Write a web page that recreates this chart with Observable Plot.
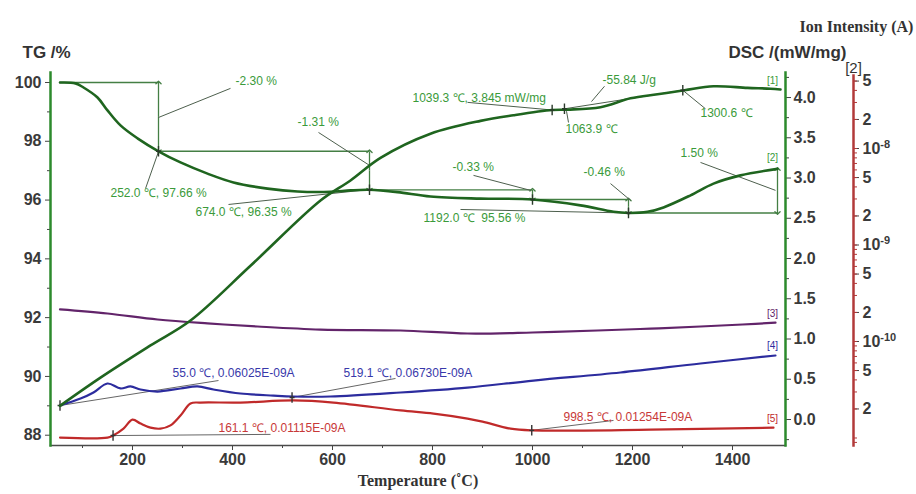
<!DOCTYPE html>
<html><head><meta charset="utf-8">
<script src="https://cdn.jsdelivr.net/npm/d3@7"></script>
<script src="https://cdn.jsdelivr.net/npm/@observablehq/plot@0.6"></script>
<style>
body{margin:0;background:#fff}
#chart{position:relative;width:916px;height:494px}
</style>
</head><body><div id="chart"></div>
<script>
// ---------- axes ----------
const xDomain = [36, 1506];
const xTicks = [200, 400, 600, 800, 1000, 1200, 1400];
const xMinorTicks = [100, 300, 500, 700, 900, 1100, 1300];
const tgDomain = [87.65, 100.34];
const tgTicks = [88, 90, 92, 94, 96, 98, 100];
const tgMinorTicks = [89, 91, 93, 95, 97, 99];
const dscDomain = [-0.323, 4.311];
const dscTicks = [0, 0.5, 1.0, 1.5, 2.0, 2.5, 3.0, 3.5, 4.0];
const dscMinorTicks = [-0.25, 0.25, 0.75, 1.25, 1.75, 2.25, 2.75, 3.25, 3.75, 4.25];
const ionDomain = [8.36e-12, 5.71e-8];
const ionTicks = [5e-8, 2e-8, 1e-8, 5e-9, 2e-9, 1e-9, 5e-10, 2e-10, 1e-10, 5e-11, 2e-11];
const ionTickLabels = ["5", "2", "10-8", "5", "2", "10-9", "5", "2", "10-10", "5", "2"];
const ionMinorTicks = [];
for (let e = -12; e <= -8; e++) for (let k = 1; k <= 9; k++) {
  const v = k * Math.pow(10, e);
  if (v >= ionDomain[0] && v <= ionDomain[1]) ionMinorTicks.push(v);
}

// ---------- TG curve [2] ----------
const tgTemp  = [55, 86, 102, 130, 150, 176, 210, 252, 296, 350, 402, 470, 530, 596, 636, 674, 730, 796, 896, 1000, 1096, 1162, 1192, 1230, 1262, 1316, 1362, 1416, 1490];
const tgValue = [100.0, 99.97, 99.83, 99.49, 99.05, 98.54, 98.10, 97.66, 97.28, 96.90, 96.60, 96.39, 96.29, 96.28, 96.33, 96.35, 96.27, 96.12, 96.05, 96.02, 95.82, 95.60, 95.56, 95.60, 95.75, 96.16, 96.56, 96.84, 97.06];

// ---------- DSC curve [1] ----------
const dscTemp  = [55, 136, 236, 316, 436, 576, 636, 696, 796, 896, 962, 1039.3, 1070, 1136, 1196, 1250, 1304, 1362, 1430, 1476, 1496];
const dscValue = [0.17, 0.52, 0.92, 1.23, 1.91, 2.72, 2.97, 3.25, 3.55, 3.71, 3.78, 3.845, 3.85, 3.88, 3.99, 4.04, 4.09, 4.14, 4.12, 4.11, 4.10];

// ---------- ion curves [3] [4] [5] (A) ----------
const purpleTemp = [55, 150, 250, 350, 450, 576, 736, 870, 1000, 1130, 1236, 1336, 1420, 1486];
const purpleIon  = [2.15e-10, 1.95e-10, 1.69e-10, 1.54e-10, 1.43e-10, 1.33e-10, 1.30e-10, 1.21e-10, 1.24e-10, 1.30e-10, 1.36e-10, 1.43e-10, 1.50e-10, 1.57e-10];
const blueTemp = [55, 96, 122, 150, 176, 196, 216, 250, 296, 330, 362, 416, 482, 522, 596, 736, 870, 1002, 1176, 1336, 1486];
const blueIon  = [2.17e-11, 2.56e-11, 2.96e-11, 3.67e-11, 3.26e-11, 3.42e-11, 3.18e-11, 3.03e-11, 3.26e-11, 3.42e-11, 3.18e-11, 2.89e-11, 2.75e-11, 2.69e-11, 2.69e-11, 2.96e-11, 3.33e-11, 3.94e-11, 4.77e-11, 5.92e-11, 7.16e-11];
const redTemp = [55, 150, 161, 182, 200, 216, 236, 256, 276, 296, 316, 336, 416, 522, 602, 736, 802, 870, 900, 956, 1000, 1236, 1482];
const redIon  = [1.01e-11, 1.01e-11, 1.06e-11, 1.25e-11, 1.55e-11, 1.41e-11, 1.28e-11, 1.25e-11, 1.35e-11, 1.71e-11, 2.28e-11, 2.33e-11, 2.33e-11, 2.45e-11, 2.33e-11, 1.93e-11, 1.79e-11, 1.59e-11, 1.48e-11, 1.25e-11, 1.20e-11, 1.22e-11, 1.28e-11];

// ---------- TG step annotations ----------
const tgStepTemp  = [55, 252, 674, 1000, 1192, 1490];
const tgStepLevel = [100.0, 97.66, 96.35, 96.02, 95.56, 97.06];
const tgLabelText = ["-2.30 %", "-1.31 %", "252.0 \u2103, 97.66 %", "674.0 \u2103, 96.35 %", "-0.33 %", "1192.0 \u2103  95.56 %", "-0.46 %", "1.50 %"];
const tgLabelTemp = [406, 530, 156, 326, 840, 782, 1102, 1296];
const tgLabelTG   = [100.03, 98.64, 96.22, 95.58, 97.11, 95.37, 96.94, 97.59];
const tgLeaders = [[396, 99.80, 252, 98.81], [572, 98.30, 674, 97.18], [226, 96.39, 252, 97.65], [392, 95.85, 674, 96.36], [882, 96.84, 996, 96.33], [856, 95.68, 1192, 95.56], [1156, 96.56, 1196, 95.99], [1336, 97.28, 1486, 96.33]];
const tgMarkTemp = [252, 674, 1000, 1192];
const tgMarkTG   = [97.66, 96.35, 96.02, 95.56];

// ---------- DSC annotations ----------
const dscLabelText = ["1039.3 \u2103, 3.845 mW/mg", "1063.9 \u2103", "-55.84 J/g", "1300.6 \u2103"];
const dscLabelTemp = [760, 1066, 1140, 1336];
const dscLabelDSC  = [3.99, 3.61, 4.21, 3.80];
const dscLeaders = [[870, 3.94, 1039.3, 3.845], [1068, 3.83, 1072, 3.69], [1144, 4.14, 1118, 3.95], [1300.6, 4.09, 1346, 3.86], [1063.9, 3.86, 1300.6, 4.09]];
const dscMarkTemp = [1039.3, 1063.9, 1300.6];
const dscMarkDSC  = [3.845, 3.86, 4.09];

// ---------- ion annotations ----------
const ionLabelText = ["55.0 \u2103, 0.06025E-09A", "519.1 \u2103, 0.06730E-09A", "161.1 \u2103, 0.01115E-09A", "998.5 \u2103, 0.01254E-09A"];
const ionLabelTemp = [280, 622, 372, 1062];
const ionLabelIon  = [4.66e-11, 4.66e-11, 1.25e-11, 1.63e-11];
const ionLabelSeries = ["blue", "blue", "red", "red"];
const ionLeaders = [[55, 2.17e-11, 372, 3.94e-11], [519.1, 2.63e-11, 726, 4.14e-11], [161.1, 1.06e-11, 476, 1.09e-11], [998.5, 1.20e-11, 1162, 1.52e-11]];
const ionMarkTemp = [55, 519.1, 161.1, 998.5];
const ionMarkIon  = [2.17e-11, 2.63e-11, 1.06e-11, 1.20e-11];

// ---------- curve tags ----------
const tagText = ["[1]", "[2]", "[3]", "[4]", "[5]"];
const tagTemp = [1480, 1480, 1480, 1480, 1480];
const tagValue = [4.21, 97.45, 1.95e-10, 9.1e-11, 1.59e-11];

// ---------- styles ----------
const axisGreen = "#2c8a2c", curveGreen = "#1f651f", noteGreen = "#3a9a3a", stepGreen = "#447f44", leaderCol = "#4d5f4d";
const purple = "#62246a", blue = "#2c2c9e", red = "#c02a2a", ionAxisRed = "#b23a3a";
const noteBlue = "#3838aa", noteRed = "#c83838";
const sans = "'Liberation Sans', Arial, sans-serif", serif = "'Liberation Serif', 'Times New Roman', serif";
const tickText = "#3a3a3a";

const zip = (a, b) => a.map((v, i) => ({x: v, y: b[i]}));
const vbar = {draw(ctx, size) {
  const r = Math.sqrt(size / Math.PI);
  ctx.moveTo(0, -r * 1.5); ctx.lineTo(0, r * 1.5);
  ctx.moveTo(-r * 0.7, 0); ctx.lineTo(r * 0.7, 0);
}};
const common = {
  width: 916, height: 494,
  style: {position: "absolute", left: "0px", top: "0px", background: "transparent", fontFamily: sans, overflow: "visible"}
};

const tgRows = zip(tgTemp, tgValue);
const tgHoriz = tgStepTemp.slice(0, -1).map((t, i) => ({x1: t, x2: tgStepTemp[i + 1], y: tgStepLevel[i]}));
const tgVert = tgStepTemp.slice(1).map((t, i) => ({x: t, y1: tgStepLevel[i], y2: tgStepLevel[i + 1], ym: (tgStepLevel[i] + tgStepLevel[i + 1]) / 2}));
const tgNotes = tgLabelText.map((s, i) => ({text: s, x: tgLabelTemp[i], y: tgLabelTG[i]}));
const linkRows = a => a.map(d => ({x1: d[0], y1: d[1], x2: d[2], y2: d[3]}));

// ---------- Plot A: TG ----------
const tgPlot = Plot.plot({
  ...common,
  marginLeft: 50, marginRight: 131, marginTop: 72, marginBottom: 49,
  x: {domain: xDomain},
  y: {domain: tgDomain},
  marks: [
    Plot.axisX({ticks: xTicks, tickFormat: d => String(d), tickSize: 5, tickPadding: 3, fontSize: 16, fontWeight: "bold", fill: tickText, stroke: "#444", label: null}),
    Plot.axisX({ticks: xMinorTicks, tickSize: 3, tickFormat: () => "", stroke: "#444", label: null}),
    Plot.axisY({ticks: tgTicks, tickFormat: d => String(d), tickSize: 5, tickPadding: 4, fontSize: 16, fontWeight: "bold", fill: tickText, stroke: "#444", label: null}),
    Plot.axisY({ticks: tgMinorTicks, tickSize: 3, tickFormat: () => "", stroke: "#444", label: null}),
    Plot.frame({anchor: "bottom", stroke: "#4a4a4a", strokeWidth: 1.5}),
    Plot.frame({anchor: "left", stroke: axisGreen, strokeWidth: 2.5}),
    Plot.ruleY(tgHoriz, {y: "y", x1: "x1", x2: "x2", stroke: stepGreen, strokeWidth: 1.3}),
    Plot.link(tgVert, {x1: "x", x2: "x", y1: "ym", y2: "y1", stroke: stepGreen, strokeWidth: 1.3, markerEnd: "arrow"}),
    Plot.link(tgVert, {x1: "x", x2: "x", y1: "ym", y2: "y2", stroke: stepGreen, strokeWidth: 1.3, markerEnd: "arrow"}),
    Plot.link(linkRows(tgLeaders), {x1: "x1", y1: "y1", x2: "x2", y2: "y2", stroke: leaderCol, strokeWidth: 1}),
    Plot.line(tgRows, {x: "x", y: "y", stroke: curveGreen, strokeWidth: 2.6, curve: "catmull-rom"}),
    Plot.dot(zip(tgMarkTemp, tgMarkTG), {x: "x", y: "y", symbol: vbar, r: 3.5, stroke: "#2a3a2a", strokeWidth: 1.4, fill: "none"}),
    Plot.text(tgNotes, {x: "x", y: "y", text: "text", textAnchor: "start", fill: noteGreen, fontSize: 12}),
    Plot.text([{x: tagTemp[1], y: tagValue[1], t: tagText[1]}], {x: "x", y: "y", text: "t", fill: noteGreen, fontSize: 10}),
    Plot.text(["TG /%"], {frameAnchor: "top-left", dx: -28, dy: -27, textAnchor: "start", fontSize: 17, fontWeight: "bold", fill: "#333"}),
    Plot.text(["Temperature (\u02DAC)"], {frameAnchor: "bottom", dy: 40, textAnchor: "middle", fontFamily: serif, fontSize: 16, fontWeight: "bold", fill: "#333"})
  ]
});

// ---------- Plot B: DSC ----------
const dscNotes = dscLabelText.map((s, i) => ({text: s, x: dscLabelTemp[i], y: dscLabelDSC[i]}));
const dscPlot = Plot.plot({
  ...common,
  marginLeft: 50, marginRight: 131, marginTop: 72, marginBottom: 49,
  x: {domain: xDomain, axis: null},
  y: {domain: dscDomain},
  marks: [
    Plot.axisY({anchor: "right", ticks: dscTicks, tickFormat: d3.format(".1f"), tickSize: 5, tickPadding: 3, fontSize: 16, fontWeight: "bold", fill: tickText, stroke: "#444", label: null}),
    Plot.axisY({anchor: "right", ticks: dscMinorTicks, tickFormat: () => "", tickSize: 3, stroke: "#444", label: null}),
    Plot.frame({anchor: "right", stroke: axisGreen, strokeWidth: 2.5}),
    Plot.link(linkRows(dscLeaders), {x1: "x1", y1: "y1", x2: "x2", y2: "y2", stroke: leaderCol, strokeWidth: 1}),
    Plot.line(zip(dscTemp, dscValue), {x: "x", y: "y", stroke: curveGreen, strokeWidth: 2.6, curve: "catmull-rom"}),
    Plot.dot(zip(dscMarkTemp, dscMarkDSC), {x: "x", y: "y", symbol: vbar, r: 3.5, stroke: "#2a3a2a", strokeWidth: 1.4, fill: "none"}),
    Plot.text(dscNotes, {x: "x", y: "y", text: "text", textAnchor: "start", fill: noteGreen, fontSize: 12}),
    Plot.text([{x: tagTemp[0], y: tagValue[0], t: tagText[0]}], {x: "x", y: "y", text: "t", fill: noteGreen, fontSize: 10}),
    Plot.text(["DSC /(mW/mg)"], {frameAnchor: "top-right", dx: 2, dy: -27, textAnchor: "middle", fontSize: 17, fontWeight: "bold", fill: "#333"})
  ]
});

// ---------- Plot C: ion intensity (log) ----------
const ionNotes = ionLabelText.map((s, i) => ({text: s, x: ionLabelTemp[i], y: ionLabelIon[i], c: ionLabelSeries[i] === "blue" ? noteBlue : noteRed}));
const ionTags = [2, 3, 4].map(i => ({t: tagText[i], x: tagTemp[i], y: tagValue[i], c: [purple, blue, red][i - 2]}));
const ionTickRows = ionTicks.map((v, i) => ({y: v, label: ionTickLabels[i]}));
const ionPlot = Plot.plot({
  ...common,
  marginLeft: 50, marginRight: 63, marginTop: 75, marginBottom: 49,
  x: {domain: xDomain, range: [50, 785], axis: null},
  y: {type: "log", domain: ionDomain},
  marks: [
    Plot.axisY({anchor: "right", ticks: ionTicks, tickFormat: () => "", tickSize: 5, stroke: "#444", label: null}),
    Plot.axisY({anchor: "right", ticks: ionMinorTicks, tickFormat: () => "", tickSize: 3, stroke: ionAxisRed, label: null}),
    Plot.text(ionTickRows, {y: "y", text: "label", frameAnchor: "right", dx: 9, textAnchor: "start", fontSize: 16, fontWeight: "bold", fill: tickText}),
    Plot.frame({anchor: "right", stroke: ionAxisRed, strokeWidth: 2.5}),
    Plot.link(linkRows(ionLeaders), {x1: "x1", y1: "y1", x2: "x2", y2: "y2", stroke: "#666", strokeWidth: 1}),
    Plot.line(zip(purpleTemp, purpleIon), {x: "x", y: "y", stroke: purple, strokeWidth: 2.2, curve: "catmull-rom"}),
    Plot.line(zip(blueTemp, blueIon), {x: "x", y: "y", stroke: blue, strokeWidth: 2.2, curve: "catmull-rom"}),
    Plot.line(zip(redTemp, redIon), {x: "x", y: "y", stroke: red, strokeWidth: 2.2, curve: "catmull-rom"}),
    Plot.dot(zip(ionMarkTemp, ionMarkIon), {x: "x", y: "y", symbol: vbar, r: 3.5, stroke: "#333", strokeWidth: 1.4, fill: "none"}),
    Plot.text(ionNotes, {x: "x", y: "y", text: "text", textAnchor: "start", fill: "c", fontSize: 12}),
    Plot.text(ionTags, {x: "x", y: "y", text: "t", fill: "c", fontSize: 10}),
    Plot.text(["[2]"], {frameAnchor: "top-right", dx: 0, dy: -13, textAnchor: "middle", fontSize: 15, fill: "#333"}),
    Plot.text(["Ion Intensity (A)"], {frameAnchor: "top-right", dx: 3, dy: -55, textAnchor: "middle", fontFamily: serif, fontSize: 16, fontWeight: "bold", fill: "#333"})
  ]
});
// superscript exponents on the decade labels
ionPlot.querySelectorAll("text").forEach(t => {
  const m = t.textContent.match(/^10(-\d+)$/);
  if (m && t.children.length === 0) {
    t.textContent = "10";
    const ts = document.createElementNS("http://www.w3.org/2000/svg", "tspan");
    ts.setAttribute("dy", "-6");
    ts.setAttribute("font-size", "11");
    ts.textContent = m[1];
    t.appendChild(ts);
  }
});

const chart = document.getElementById("chart");
chart.append(ionPlot, tgPlot, dscPlot);
</script>
</body></html>
